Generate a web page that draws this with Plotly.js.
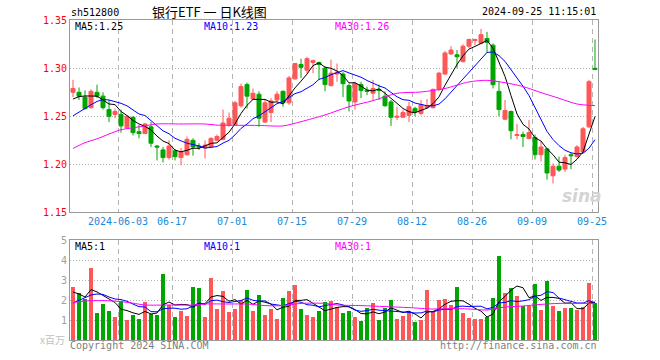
<!DOCTYPE html>
<html><head><meta charset="utf-8">
<script src="https://cdn.plot.ly/plotly-3.0.1.min.js"></script>
<style>html,body{margin:0;padding:0;background:#fff}#chart{width:660px;height:360px}</style>
</head><body><div id="chart"></div>
<script>
const dates = ['2024-05-22','2024-05-23','2024-05-24','2024-05-27','2024-05-28','2024-05-29','2024-05-30','2024-05-31',
'2024-06-03','2024-06-04','2024-06-05','2024-06-06','2024-06-07','2024-06-11','2024-06-12','2024-06-13','2024-06-14',
'2024-06-17','2024-06-18','2024-06-19','2024-06-20','2024-06-21','2024-06-24','2024-06-25','2024-06-26','2024-06-27','2024-06-28',
'2024-07-01','2024-07-02','2024-07-03','2024-07-04','2024-07-05','2024-07-08','2024-07-09','2024-07-10','2024-07-11','2024-07-12',
'2024-07-15','2024-07-16','2024-07-17','2024-07-18','2024-07-19','2024-07-22','2024-07-23','2024-07-24','2024-07-25','2024-07-26',
'2024-07-29','2024-07-30','2024-07-31','2024-08-01','2024-08-02','2024-08-05','2024-08-06','2024-08-07','2024-08-08','2024-08-09',
'2024-08-12','2024-08-13','2024-08-14','2024-08-15','2024-08-16','2024-08-19','2024-08-20','2024-08-21','2024-08-22','2024-08-23',
'2024-08-26','2024-08-27','2024-08-28','2024-08-29','2024-08-30','2024-09-02','2024-09-03','2024-09-04','2024-09-05','2024-09-06',
'2024-09-09','2024-09-10','2024-09-11','2024-09-12','2024-09-13','2024-09-18','2024-09-19','2024-09-20','2024-09-23','2024-09-24','2024-09-25'];

const open = [1.275,1.275,1.270,1.259,1.275,1.271,1.257,1.252,1.252,1.238,
1.249,1.234,1.232,1.239,1.219,1.215,1.207,1.214,1.207,1.210,
1.225,1.219,1.217,1.218,1.225,1.226,1.241,1.241,1.261,1.283,
1.268,1.273,1.244,1.254,1.267,1.276,1.264,1.289,1.304,1.298,
1.306,1.306,1.300,1.282,1.294,1.294,1.282,1.265,1.283,1.277,
1.274,1.278,1.271,1.265,1.249,1.249,1.251,1.258,1.253,1.259,
1.259,1.278,1.294,1.315,1.314,1.307,1.323,1.329,1.326,1.331,
1.324,1.276,1.247,1.255,1.230,1.231,1.227,1.228,1.210,1.216,
1.188,1.198,1.195,1.210,1.208,1.213,1.239,1.300];
const high = [1.288,1.280,1.277,1.278,1.283,1.275,1.267,1.258,1.257,1.251,
1.250,1.241,1.243,1.244,1.220,1.218,1.225,1.216,1.217,1.229,
1.227,1.222,1.225,1.228,1.231,1.257,1.254,1.266,1.284,1.285,
1.279,1.276,1.267,1.269,1.276,1.277,1.292,1.305,1.310,1.312,
1.309,1.307,1.302,1.309,1.305,1.296,1.284,1.286,1.286,1.281,
1.288,1.283,1.276,1.267,1.260,1.257,1.265,1.260,1.267,1.268,
1.279,1.296,1.318,1.323,1.319,1.325,1.331,1.331,1.341,1.338,
1.326,1.286,1.267,1.256,1.242,1.234,1.246,1.231,1.224,1.217,
1.201,1.208,1.210,1.212,1.220,1.239,1.288,1.330];
const low = [1.270,1.267,1.257,1.258,1.269,1.257,1.244,1.248,1.233,1.237,
1.230,1.227,1.232,1.218,1.204,1.202,1.205,1.204,1.199,1.209,
1.209,1.215,1.206,1.217,1.224,1.225,1.239,1.240,1.259,1.258,
1.267,1.239,1.243,1.244,1.265,1.260,1.262,1.288,1.290,1.295,
1.295,1.288,1.276,1.281,1.286,1.270,1.255,1.257,1.269,1.272,
1.267,1.267,1.260,1.240,1.246,1.249,1.244,1.250,1.251,1.258,
1.258,1.276,1.293,1.314,1.300,1.306,1.321,1.324,1.325,1.316,
1.279,1.250,1.246,1.226,1.226,1.218,1.226,1.205,1.203,1.184,
1.180,1.192,1.192,1.195,1.207,1.212,1.238,1.298];
const close = [1.279,1.271,1.258,1.276,1.271,1.259,1.250,1.255,1.240,1.250,
1.233,1.232,1.242,1.222,1.218,1.207,1.219,1.208,1.213,1.226,
1.218,1.218,1.220,1.227,1.229,1.243,1.248,1.264,1.281,1.271,
1.274,1.248,1.264,1.266,1.273,1.264,1.290,1.305,1.301,1.310,
1.308,1.304,1.283,1.295,1.296,1.284,1.266,1.284,1.277,1.276,
1.279,1.277,1.261,1.249,1.250,1.254,1.260,1.255,1.262,1.261,
1.278,1.295,1.316,1.319,1.312,1.323,1.330,1.330,1.335,1.327,
1.283,1.257,1.256,1.235,1.231,1.229,1.233,1.210,1.218,1.191,
1.198,1.194,1.207,1.209,1.218,1.237,1.286,1.299];
// volume, millions of shares
const volume = [2.67,2.33,2.05,3.62,1.35,1.80,1.45,1.15,1.95,1.00,
1.25,1.05,1.90,1.30,1.25,3.30,1.75,1.15,1.45,1.20,
2.65,2.62,1.17,3.12,1.55,2.45,1.40,1.57,2.00,2.50,
1.45,2.25,1.25,1.55,1.05,2.10,2.45,2.75,1.55,1.25,
1.17,1.45,1.90,1.95,1.67,1.37,1.45,1.17,0.95,1.60,
1.85,1.00,1.60,2.00,1.05,1.20,1.35,0.90,1.00,2.50,
1.38,2.00,2.05,1.75,2.65,1.35,1.12,1.05,1.05,1.17,
2.12,4.20,2.35,2.62,2.20,1.70,1.70,2.80,1.50,2.95,
1.70,1.45,1.60,1.60,1.50,1.67,2.85,1.85];

const ma5 = [1.2680,1.2705,1.2712,1.2712,1.2710,1.2670,1.2628,1.2622,1.2550,1.2508,
1.2456,1.2420,1.2394,1.2358,1.2294,1.2242,1.2216,1.2148,1.2130,1.2146,
1.2168,1.2166,1.2190,1.2218,1.2224,1.2274,1.2334,1.2422,1.2530,1.2614,
1.2676,1.2676,1.2676,1.2646,1.2650,1.2630,1.2714,1.2796,1.2866,1.2940,
1.3028,1.3056,1.3012,1.3000,1.2972,1.2924,1.2848,1.2850,1.2814,1.2774,
1.2764,1.2786,1.2740,1.2684,1.2632,1.2582,1.2548,1.2536,1.2562,1.2584,
1.2632,1.2702,1.2824,1.2938,1.3040,1.3130,1.3200,1.3228,1.3260,1.3290,
1.3210,1.3064,1.2916,1.2716,1.2524,1.2416,1.2368,1.2276,1.2242,1.2162,
1.2100,1.2022,1.2016,1.1998,1.2052,1.2130,1.2314,1.2498];
const ma10 = [1.2505,1.2545,1.2585,1.2620,1.2655,1.2675,1.2670,1.2655,1.2635,1.2609,
1.2563,1.2524,1.2508,1.2454,1.2401,1.2349,1.2318,1.2271,1.2244,1.2220,
1.2205,1.2191,1.2169,1.2174,1.2185,1.2221,1.2250,1.2306,1.2374,1.2419,
1.2475,1.2505,1.2549,1.2588,1.2632,1.2653,1.2695,1.2736,1.2756,1.2795,
1.2829,1.2885,1.2904,1.2933,1.2956,1.2976,1.2952,1.2931,1.2907,1.2873,
1.2844,1.2817,1.2795,1.2749,1.2703,1.2673,1.2667,1.2638,1.2623,1.2610,
1.2609,1.2627,1.2682,1.2752,1.2814,1.2883,1.2953,1.3028,1.3101,1.3165,
1.3170,1.3132,1.3072,1.2988,1.2907,1.2813,1.2716,1.2596,1.2479,1.2343,
1.2258,1.2195,1.2146,1.2120,1.2107,1.2115,1.2168,1.2257];
const ma30Idx = [0,2,4,6,8,10,12,14,18,22,24,28,31,35,38,42,46,50,54,58,62,66,69,72,75,78,81,84,87];
const ma30 = [1.2165,1.2225,1.2265,1.2315,1.2360,1.2380,1.2400,1.2420,1.2420,1.2420,1.2408,1.2406,1.2405,1.2400,1.2444,1.2514,1.2600,1.2663,1.2740,1.2753,1.2790,1.2858,1.2875,1.2850,1.2810,1.2747,1.2688,1.2628,1.2611];

const volMa5 = [2.40,2.30,2.15,2.52,2.404,2.230,2.054,1.874,1.540,1.470,
1.360,1.280,1.430,1.300,1.350,1.760,1.900,1.750,1.780,1.770,
1.640,1.814,1.818,2.152,2.222,2.182,1.938,2.018,1.794,1.984,
1.784,1.954,1.890,1.800,1.510,1.640,1.680,1.980,1.980,2.020,
1.834,1.634,1.464,1.544,1.628,1.668,1.668,1.522,1.322,1.308,
1.404,1.314,1.400,1.610,1.500,1.370,1.440,1.300,1.100,1.390,
1.426,1.556,1.786,1.936,1.966,1.960,1.784,1.584,1.444,1.148,
1.302,1.918,2.178,2.492,2.698,2.614,2.114,2.204,1.980,2.130,
2.130,2.080,1.840,1.860,1.570,1.564,1.844,1.894];
const volMa10 = [1.85,1.97,2.12,2.25,2.30,2.28,2.15,2.05,2.02,1.937,
1.795,1.667,1.652,1.420,1.410,1.560,1.590,1.590,1.540,1.560,
1.700,1.857,1.784,1.966,1.996,1.911,1.876,1.918,1.973,2.103,
1.983,1.946,1.954,1.797,1.747,1.712,1.817,1.935,1.890,1.765,
1.737,1.657,1.722,1.762,1.824,1.751,1.651,1.493,1.433,1.468,
1.536,1.491,1.461,1.466,1.404,1.387,1.377,1.350,1.355,1.445,
1.398,1.498,1.543,1.518,1.678,1.693,1.670,1.685,1.690,1.557,
1.631,1.851,1.881,1.968,1.923,1.958,2.016,2.191,2.236,2.414,
2.372,2.097,2.022,1.920,1.850,1.847,1.962,1.867];
const volMa30Idx = [0,2,5,8,10,12,16,20,22,26,29,32,35,38,42,44,48,52,56,60,63,66,69,72,75,78,81,84,87];
const volMa30 = [1.87,1.95,1.97,1.92,1.84,1.75,1.75,1.75,1.80,1.80,1.80,1.72,1.72,1.83,1.83,1.75,1.72,1.67,1.62,1.55,1.57,1.55,1.50,1.65,1.70,1.78,1.83,1.83,1.83];

const tickDates = ['2024-06-03','2024-06-17','2024-07-01','2024-07-15','2024-07-29','2024-08-12','2024-08-26','2024-09-09','2024-09-25'];
const tickText = ['2024-06-03','06-17','07-01','07-15','07-29','08-12','08-26','09-09','09-25'];
const priceTicks = [1.15,1.20,1.25,1.30,1.35];
const volTicks = [1,2,3,4,5];

const RED = '#ff5757', GREEN = '#00a600';
const W = 660, H = 360;
const idx = dates.map((d, i) => i);
const tickPos = tickDates.map(d => dates.indexOf(d) - 0.5);
const volColors = idx.map(i => close[i] > open[i] ? RED : GREEN);
const mono = 'DejaVu Sans Mono';
const px = v => v / W, py = v => 1 - v / H;

const traces = [
  {type:'candlestick', x: idx, open, high, low, close, xaxis:'x', yaxis:'y',
   increasing:{line:{color:RED,width:1}, fillcolor:RED},
   decreasing:{line:{color:GREEN,width:1}, fillcolor:GREEN},
   whiskerwidth:0, hoverinfo:'skip'},
  {type:'scatter', mode:'lines', x: idx, y: ma5, xaxis:'x', yaxis:'y', line:{color:'#000000', width:1}},
  {type:'scatter', mode:'lines', x: idx, y: ma10, xaxis:'x', yaxis:'y', line:{color:'#0000ff', width:1}},
  {type:'scatter', mode:'lines', x: ma30Idx, y: ma30, xaxis:'x', yaxis:'y', line:{color:'#ff00ff', width:1, shape:'spline', smoothing:0.8}},
  {type:'bar', x: idx, y: volume, xaxis:'x2', yaxis:'y2', width:0.83, marker:{color: volColors, line:{width:0}}},
  {type:'scatter', mode:'lines', x: idx, y: volMa5, xaxis:'x2', yaxis:'y2', line:{color:'#000000', width:1}},
  {type:'scatter', mode:'lines', x: idx, y: volMa10, xaxis:'x2', yaxis:'y2', line:{color:'#0000ff', width:1}},
  {type:'scatter', mode:'lines', x: volMa30Idx, y: volMa30, xaxis:'x2', yaxis:'y2', line:{color:'#ff00ff', width:1, shape:'spline', smoothing:0.8}}
];

const xDom = [px(70), px(598)];
const gridV = {showgrid:true, gridcolor:'#b4b4b4', gridwidth:1, griddash:'5px,4px'};
const frame = {showline:true, mirror:true, linecolor:'#999999', linewidth:1, zeroline:false, ticks:''};

function ann(text, x, y, xanchor, color, size, family, extra) {
  return Object.assign({text, x, y, xref:'paper', yref:'paper', xanchor, yanchor:'middle', showarrow:false, borderpad:0,
    font:{family: family || mono, size: size || 10, color: color || '#000'}}, extra || {});
}

const layout = {
  width: W, height: H, margin:{l:0,r:0,t:0,b:0},
  paper_bgcolor:'#ffffff', plot_bgcolor:'#ffffff',
  showlegend:false, hovermode:false, dragmode:false,
  boxgap:0.333, boxgroupgap:0, bargap:0,
  font:{family: mono, size:10, color:'#000'},
  xaxis: Object.assign({domain:xDom, anchor:'y', range:[-0.5, 87.5], tickmode:'array', tickvals:tickPos, ticktext:tickText,
    tickfont:{family:mono, size:10, color:'#1a88d8'}, rangeslider:{visible:false}}, gridV, frame),
  yaxis: Object.assign({domain:[py(212.3), py(20.3)], anchor:'x', range:[1.15, 1.35], tickmode:'array', tickvals:priceTicks,
    ticktext: priceTicks.map(v => v.toFixed(2)), tickfont:{family:mono, size:10, color:'#ff0000'},
    showgrid:true, gridcolor:'#b4b4b4', griddash:'1px,2px'}, frame),
  xaxis2: Object.assign({domain:xDom, anchor:'y2', range:[-0.5, 87.5], tickmode:'array', tickvals:tickPos, showticklabels:false}, gridV, frame),
  yaxis2: Object.assign({domain:[py(340), py(240)], anchor:'x2', range:[0, 5], tickmode:'array', tickvals:volTicks,
    tickfont:{family:mono, size:10, color:'#a0a0a0'}, showgrid:true, gridcolor:'#b4b4b4', griddash:'1px,2px'}, frame),
  annotations: [
    ann('sh512800', px(70), py(12.5), 'left', '#000', 10),
    ann('银行ETF\u00a0一\u00a0日K线图', px(209), py(11.5), 'center', '#000', 13, 'Noto Sans CJK SC'),
    ann('2024-09-25 11:15:01', px(597), py(12), 'right', '#000', 10),
    ann('MA5:1.25', px(74), py(26.5), 'left', '#000', 10),
    ann('MA10:1.23', px(203), py(26.5), 'left', '#0000ff', 10),
    ann('MA30:1.26', px(334), py(26.5), 'left', '#ff00ff', 10),
    ann('MA5:1', px(74), py(246.5), 'left', '#000', 10),
    ann('MA10:1', px(203), py(246.5), 'left', '#0000ff', 10),
    ann('MA30:1', px(334), py(246.5), 'left', '#ff00ff', 10),
    ann('x百万', px(66), py(339.5), 'right', '#c0c0c0', 10, 'Noto Sans CJK SC'),
    ann('Copyright 2024 SINA.COM', px(69), py(345.5), 'left', '#808080', 10),
    ann('http://finance.sina.com.cn', px(598), py(345.5), 'right', '#808080', 10),
    ann('sina', px(582), py(196), 'center', '#d4d4d4', 17, 'DejaVu Sans', {font:{family:'DejaVu Sans', size:17, color:'#d4d4d4', weight:'bold', style:'italic'}})
  ]
};

Plotly.newPlot('chart', traces, layout, {staticPlot:true, displayModeBar:false});
</script>
</body></html>
